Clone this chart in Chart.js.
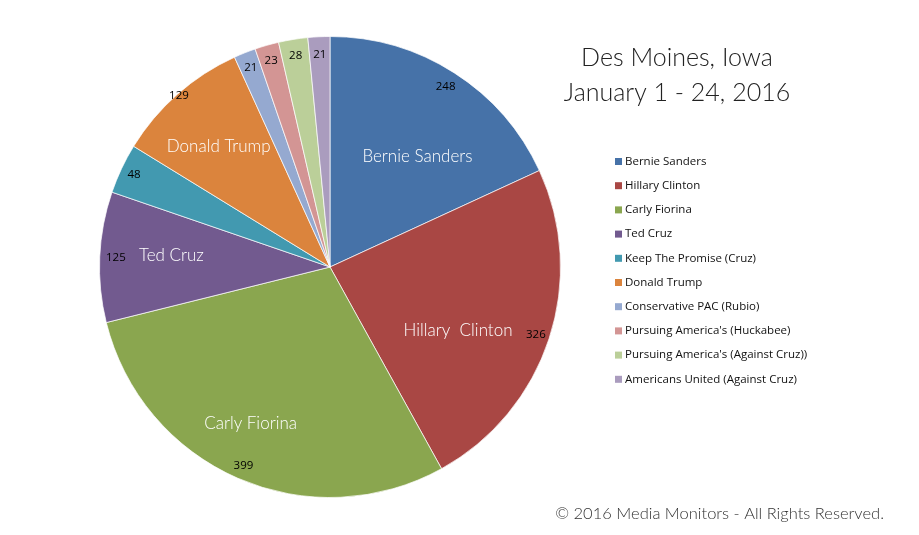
<!DOCTYPE html>
<html><head><meta charset="utf-8">
<script src="https://cdn.jsdelivr.net/npm/chart.js@4/dist/chart.umd.min.js"></script>
<style>html,body{margin:0;padding:0;background:#fff;}#wrap{width:919px;height:535px;position:relative;}</style>
</head><body><div id="wrap"><canvas id="c" width="919" height="535"></canvas></div>
<script>
const categories = ["Bernie Sanders","Hillary Clinton","Carly Fiorina","Ted Cruz","Keep The Promise (Cruz)","Donald Trump","Conservative PAC (Rubio)","Pursuing America's (Huckabee)","Pursuing America's (Against Cruz))","Americans United (Against Cruz)"];
const values = [248,326,399,125,48,129,21,23,28,21];
const sliceNames = ["Bernie Sanders","Hillary  Clinton","Carly Fiorina","Ted Cruz","","Donald Trump","","","",""];
const colors = ["#4672A8","#A94744","#8AA64F","#725A8F","#4299B0","#DB843D","#95A9D0","#D39594","#BBCF99","#AA9CBE"];
const titleLines = ["Des Moines, Iowa","January 1 - 24, 2016"];
const copyright = "\u00A9 2016 Media Monitors - All Rights Reserved.";

// label placement style: [radius fraction, angle offset in degrees]
const namePlace = [[0.61,5.8],[0.62,8.2],[0.76,3.4],[0.69,1.8],[0,0],[0.71,-1.4],[0,0],[0,0],[0,0],[0,0]];
const valueFrac = [0.93,0.94,0.94,0.93,0.94,0.99,0.93,0.93,0.93,0.92];

const labelPlugin = {
  id:'labels',
  afterDatasetsDraw(chart){
    const ctx = chart.ctx;
    const meta = chart.getDatasetMeta(0);
    ctx.save();
    meta.data.forEach((arc,i)=>{
      const p = arc.getProps(['x','y','startAngle','endAngle','outerRadius'],true);
      const mid = (p.startAngle+p.endAngle)/2;
      if (sliceNames[i]) {
        const f = namePlace[i][0], a = mid + namePlace[i][1]*Math.PI/180;
        ctx.fillStyle = '#fff';
        ctx.font = '300 17px Lato, "Open Sans", sans-serif';
        ctx.textAlign='center'; ctx.textBaseline='middle';
        ctx.fillText(sliceNames[i], p.x+Math.cos(a)*p.outerRadius*f, p.y+Math.sin(a)*p.outerRadius*f);
      }
      const g = valueFrac[i];
      ctx.fillStyle = '#000';
      ctx.font = '11.5px "Open Sans", sans-serif';
      ctx.textAlign='center'; ctx.textBaseline='middle';
      ctx.fillText(String(values[i]), p.x+Math.cos(mid)*p.outerRadius*g, p.y+Math.sin(mid)*p.outerRadius*g);
    });
    // title
    ctx.fillStyle = '#222';
    ctx.font = '300 25px Lato, "Open Sans", sans-serif';
    ctx.textAlign='center'; ctx.textBaseline='middle';
    ctx.fillText(titleLines[0], 677, 58);
    ctx.fillText(titleLines[1], 677, 93);
    // legend
    ctx.font = '11.5px "Open Sans", sans-serif';
    ctx.textAlign='left'; ctx.textBaseline='middle';
    categories.forEach((c,i)=>{
      const y = 161.5 + i*24.2;
      ctx.fillStyle = colors[i];
      ctx.fillRect(615, y-3.5, 7, 7);
      ctx.fillStyle = '#111';
      ctx.fillText(c, 625, y);
    });
    // copyright
    ctx.fillStyle = '#333';
    ctx.font = '300 16.5px Lato, "Open Sans", sans-serif';
    ctx.textAlign='right';
    ctx.fillText(copyright, 884, 514);
    ctx.restore();
  }
};

new Chart(document.getElementById('c'), {
  type:'pie',
  data:{labels:categories, datasets:[{data:values, backgroundColor:colors, borderColor:'rgba(255,255,255,0.7)', borderWidth:1}]},
  options:{
    responsive:false, animation:false,
    layout:{padding:{left:99,right:358,top:36,bottom:37}},
    plugins:{legend:{display:false}, title:{display:false}, tooltip:{enabled:false}}
  },
  plugins:[labelPlugin]
});
</script></body></html>
